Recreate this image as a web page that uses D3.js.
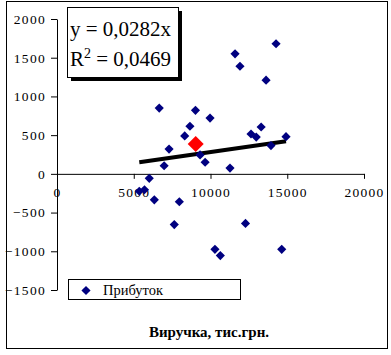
<!DOCTYPE html>
<html>
<head>
<meta charset="utf-8">
<script src="https://cdn.jsdelivr.net/npm/d3@7"></script>
<style>
  body { margin: 0; background: #fff; }
  text { font-family: "Liberation Serif", "Times New Roman", serif; }
</style>
</head>
<body>
<div id="chart"></div>
<script>
// revenue (x) vs profit (y)
var revenue = [11600, 14270, 11920, 13620, 6660, 9020, 9970, 8660, 8320, 7300,
               6980, 9320, 9650, 11270, 12640, 12980, 13300, 13940, 14920, 6010,
               5360, 5700, 6340, 7970, 7640, 12280, 10290, 10640, 14640];
var profit = [1550, 1680, 1390, 1210, 850, 820, 720, 615, 490, 320,
              105, 245, 150, 75, 515, 475, 605, 365, 480, -58,
              -225, -205, -335, -360, -655, -640, -975, -1055, -975];
var meanPoint = [9036, 384];
var slope = 0.0282;
var xTicks = [0, 5000, 10000, 15000, 20000];
var yTicks = [-1500, -1000, -500, 0, 500, 1000, 1500, 2000];

var width = 391, height = 355;

var svg = d3.select("#chart").append("svg")
    .attr("width", width)
    .attr("height", height);

// outer frame
svg.append("rect")
    .attr("x", 6.5).attr("y", 1.5)
    .attr("width", 381).attr("height", 347)
    .attr("fill", "#fff")
    .attr("stroke", "#000");

var x = d3.scaleLinear().domain([0, 20000]).range([57, 364]);
var y = d3.scaleLinear().domain([-1500, 2000]).range([290, 19]);

// y axis at x = 0
var yAxis = svg.append("g")
    .attr("transform", "translate(" + x(0) + ",0)")
    .call(d3.axisLeft(y).tickValues(yTicks).tickFormat(d3.format("d"))
          .tickSize(6).tickSizeOuter(0).tickPadding(5));

// x axis at y = 0
var xAxis = svg.append("g")
    .attr("transform", "translate(0," + y(0) + ")")
    .call(d3.axisBottom(x).tickValues(xTicks).tickFormat(d3.format("d"))
          .tickSize(5).tickSizeOuter(0).tickPadding(9));
xAxis.selectAll(".tick").filter(function(d) { return d === 0; }).select("line").remove();

svg.selectAll(".tick text")
    .attr("fill", "#000")
    .style("font-family", "'Liberation Serif', serif")
    .style("font-size", "13.5px")
    .style("letter-spacing", "1.3px");
svg.selectAll(".domain").attr("stroke", "#000");

// trend line through origin
var xmin = d3.min(revenue), xmax = d3.max(revenue);
svg.append("line")
    .attr("x1", x(xmin)).attr("y1", y(slope * xmin))
    .attr("x2", x(xmax)).attr("y2", y(slope * xmax))
    .attr("stroke", "#000")
    .attr("stroke-width", 4);

var diamond = d3.symbol().type(d3.symbolSquare);

svg.append("g").selectAll("path")
    .data(d3.range(revenue.length))
    .enter().append("path")
    .attr("d", diamond.size(42)())
    .attr("transform", function(i) {
        return "translate(" + x(revenue[i]) + "," + y(profit[i]) + ") rotate(45)";
    })
    .attr("fill", "#000080");

svg.append("path")
    .attr("d", d3.symbol().type(d3.symbolSquare).size(128)())
    .attr("transform", "translate(" + x(meanPoint[0]) + "," + y(meanPoint[1]) + ") rotate(45)")
    .attr("fill", "#ff0000");

// equation box
svg.append("rect")
    .attr("x", 71).attr("y", 11)
    .attr("width", 111).attr("height", 70)
    .attr("fill", "#000");
svg.append("rect")
    .attr("x", 67.5).attr("y", 7.5)
    .attr("width", 111).attr("height", 70)
    .attr("fill", "#fff")
    .attr("stroke", "#000");
svg.append("text")
    .attr("x", 70).attr("y", 36)
    .style("font-size", "21px")
    .text("y = 0,0282x");
var r2 = svg.append("text")
    .attr("x", 70).attr("y", 66)
    .style("font-size", "21px");
r2.append("tspan").text("R");
r2.append("tspan").attr("dy", -8).style("font-size", "14px").text("2");
r2.append("tspan").attr("dy", 8).text(" = 0,0469");

// legend
svg.append("rect")
    .attr("x", 68.5).attr("y", 279.5)
    .attr("width", 172).attr("height", 20)
    .attr("fill", "#fff")
    .attr("stroke", "#000");
svg.append("path")
    .attr("d", diamond.size(42)())
    .attr("transform", "translate(86,290.5) rotate(45)")
    .attr("fill", "#000080");
svg.append("text")
    .attr("x", 103).attr("y", 295)
    .style("font-size", "14.5px")
    .text("Прибуток");

// axis title
svg.append("text")
    .attr("x", 209).attr("y", 337)
    .attr("text-anchor", "middle")
    .style("font-size", "15px")
    .style("font-weight", "bold")
    .text("Виручка, тис.грн.");
</script>
</body>
</html>
